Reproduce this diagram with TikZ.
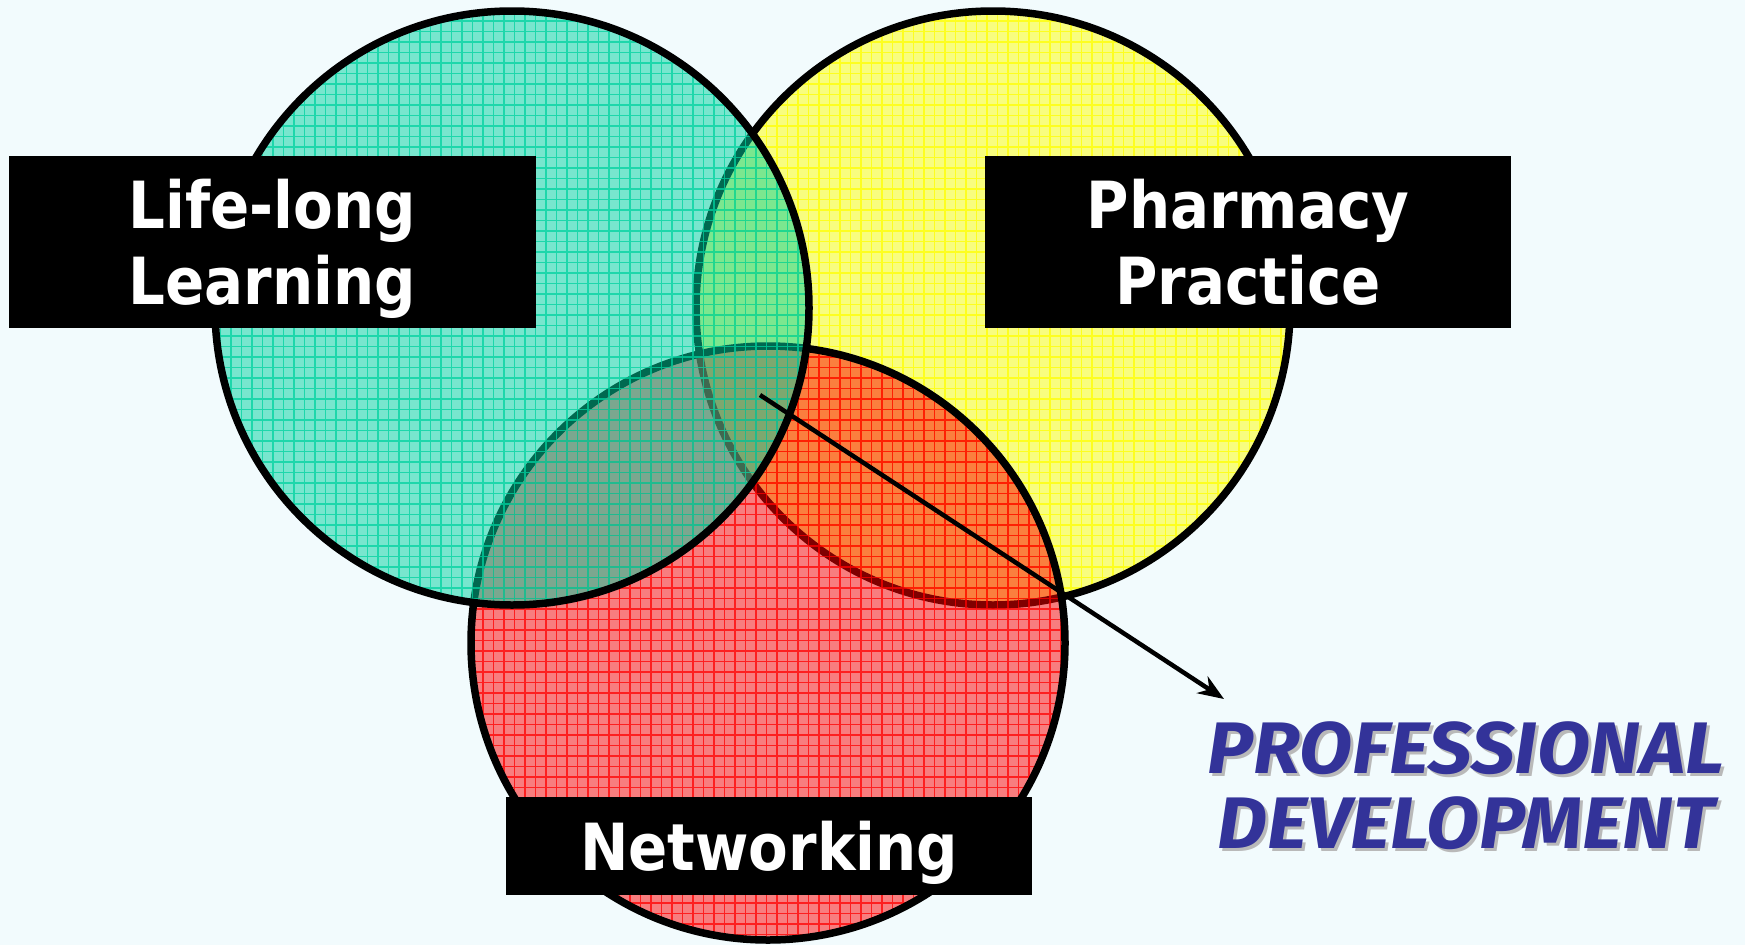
\documentclass[tikz,border=0pt]{standalone}
\usepackage{fontspec}
\usetikzlibrary{arrows.meta}
\newfontfamily\boxfont{DejaVu Sans}[FakeStretch=0.89]
\newfontfamily\pdfont{Fira Sans}[FakeStretch=1.06]
\definecolor{bg}{RGB}{242,251,253}
\definecolor{cgreen}{RGB}{0,210,160}
\definecolor{cyellow}{RGB}{255,255,0}
\definecolor{cred}{RGB}{255,0,0}
\definecolor{pdblue}{RGB}{51,51,153}
\definecolor{pdshadow}{RGB}{185,185,185}
\newcommand{\vennring}[3]{%
  \begin{scope}
    \clip (#1,#2) circle[radius=297];
    \fill[#3, fill opacity=0.5] (#1,#2) circle[radius=297];
    \draw[#3, draw opacity=0.75, line width=1.1pt, step=10.5pt] (#1-310,#2-310) grid (#1+310,#2+310);
  \end{scope}
  \draw[ringline] (#1,#2) circle[radius=297];
}
\newcommand{\shadowed}[1]{\makebox[0pt][l]{\hspace{3pt}\raisebox{-3pt}{\textcolor{pdshadow}{#1}}}#1}
\tikzset{
  ringline/.style={draw=black, line width=7.5pt},
  labelbox/.style={fill=black, text=white, inner sep=0pt, align=center, text depth=0pt,
    font=\boxfont\bfseries\fontsize{65}{76}\selectfont},
  arrowline/.style={draw=black, line width=4.5pt, -{Stealth[length=26pt,width=20pt]}},
  pdtext/.style={text=pdblue, inner sep=0pt, align=center, text depth=0pt,
    font=\pdfont\bfseries\itshape\fontsize{73}{75}\selectfont}
}
\begin{document}
\begin{tikzpicture}[x=1pt,y=-1pt]
\fill[bg] (0,0) rectangle (1745,945);
\useasboundingbox (0,0) rectangle (1745,945);
% circles: yellow (bottom), red, green (top)
\vennring{993}{308}{cyellow}
\vennring{768}{643}{cred}
\vennring{512}{308}{cgreen}
% label boxes
\node[labelbox, minimum width=527pt, minimum height=172pt] (ll) at (272.5,242) {Life-long\\Learning};
\node[labelbox, minimum width=526pt, minimum height=172pt] (pp) at (1248,242) {Pharmacy\\Practice};
\node[labelbox, minimum width=526pt, minimum height=98pt] (net) at (769,846) {Networking};
% professional development
\node[pdtext] (pd) at (1466,785) {\shadowed{PROFESSIONAL}\\\shadowed{DEVELOPMENT}};
\coordinate (arrS) at (760,395);
\coordinate (arrE) at (1224,699);
\draw[arrowline] (arrS) -- (arrE);
\end{tikzpicture}
\end{document}
